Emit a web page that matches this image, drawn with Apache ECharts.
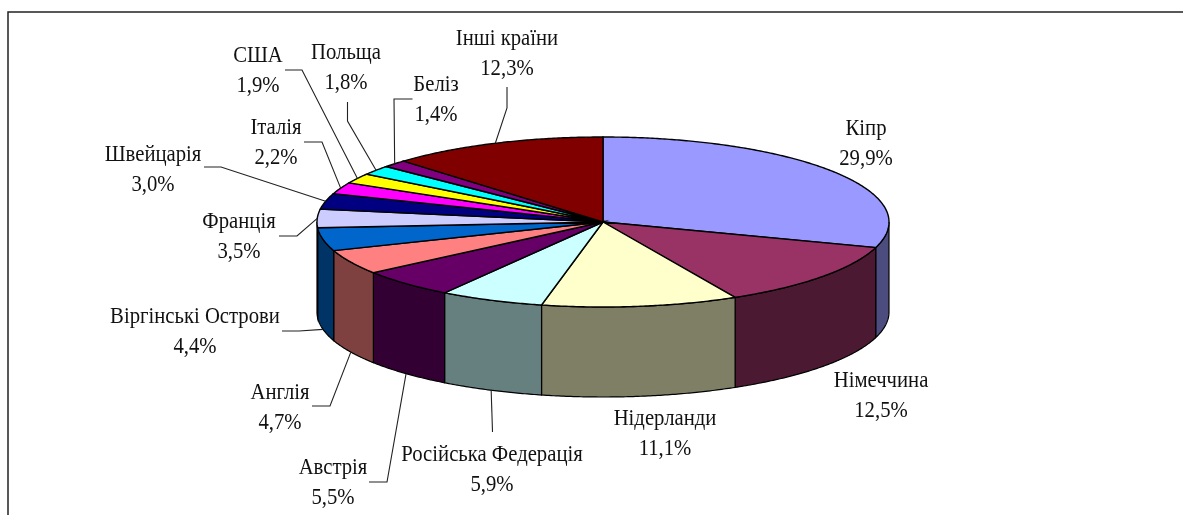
<!DOCTYPE html>
<html>
<head>
<meta charset="utf-8">
<style>
  html, body { margin: 0; padding: 0; background: #fff; }
  #chart { width: 1183px; height: 515px; }
</style>
<script src="https://cdn.jsdelivr.net/npm/echarts@6/dist/echarts.min.js"></script>
</head>
<body>
<div id="chart"></div>
<script>
const countries = ["Кіпр", "Німеччина", "Нідерланди", "Російська Федерація", "Австрія", "Англія", "Віргінські Острови", "Франція", "Швейцарія", "Італія", "США", "Польща", "Беліз", "Інші країни"];
const shares = [29.9, 12.5, 11.1, 5.9, 5.5, 4.7, 4.4, 3.5, 3.0, 2.2, 1.9, 1.8, 1.4, 12.3];
const topColors = ["#9999FF", "#993366", "#FFFFCC", "#CCFFFF", "#660066", "#FF8080", "#0066CC", "#CCCCFF", "#000080", "#FF00FF", "#FFFF00", "#00FFFF", "#800080", "#800000"];
const wallColors = ["#4C4C7F", "#4C1933", "#7F7F66", "#667F7F", "#330033", "#7F4040", "#003366", "#66667F", "#000040", "#7F007F", "#7F7F00", "#007F7F", "#400040", "#400000"];

// label centre, then the fixed part of its leader line (the last point comes from the slice)
const labelPlaces = [
  [866, 144, null], [881, 396, null], [665, 434, null],
  [492, 470, [[492.5, 432]]],
  [333, 483, [[369, 482], [387, 482]]],
  [280, 408, [[312, 406], [330, 406]]],
  [195, 332, [[282, 331], [299, 331]]],
  [239, 237, [[279, 236], [297, 236]]],
  [153, 170, [[204, 167], [221, 167]]],
  [276, 143, [[304, 142], [322, 142]]],
  [258, 71, [[285, 70], [302, 70]]],
  [346, 68, [[347.5, 102], [347.5, 121]]],
  [436, 100, [[412.5, 99], [394, 99]]],
  [507, 54, [[507, 87], [507, 108]]]
];

const cx = 603, cy = 222, rx = 286, ry = 85, depth = 90;
const total = shares.reduce((a, b) => a + b, 0);

// [start, end] of every slice in degrees, clockwise from 12 o'clock
let running = 0;
const slices = shares.map((v) => {
  const start = running / total * 360;
  running += v;
  return [start, running / total * 360];
});

function rimPoint(deg, drop) {
  const a = deg * Math.PI / 180;
  return [cx + rx * Math.sin(a), cy - ry * Math.cos(a) + (drop || 0)];
}

function arc(from, to, drop) {
  const pts = [];
  const n = Math.max(2, Math.ceil(Math.abs(to - from) / 0.5));
  for (let i = 0; i <= n; i++) pts.push(rimPoint(from + (to - from) * i / n, drop));
  return pts;
}

function renderWall(params, api) {
  const from = Math.max(api.value(0), 90);
  const to = Math.min(api.value(1), 270);
  if (to <= from) return null;
  return {
    type: "polygon",
    shape: { points: arc(from, to, 0).concat(arc(to, from, depth)) },
    style: { fill: wallColors[params.dataIndex], stroke: "#000", lineWidth: 1.2 }
  };
}

function renderTop(params, api) {
  return {
    type: "polygon",
    shape: { points: [[cx, cy]].concat(arc(api.value(0), api.value(1), 0)) },
    style: { fill: topColors[params.dataIndex], stroke: "#000", lineWidth: 1.4 }
  };
}

function renderLabel(params, api) {
  const i = params.dataIndex;
  const place = labelPlaces[i];
  const mid = (api.value(0) + api.value(1)) / 2;
  const children = [{
    type: "text",
    x: place[0],
    y: place[1],
    scaleX: 0.9,
    style: {
      text: countries[i] + "\n" + shares[i].toFixed(1).replace(".", ",") + "%",
      x: 0,
      y: 0,
      align: "center",
      verticalAlign: "middle",
      fontFamily: "Liberation Serif",
      fontSize: 23,
      lineHeight: 30,
      fill: "#111"
    }
  }];
  if (place[2]) {
    const end = rimPoint(mid, mid > 90 && mid < 270 ? depth : 0);
    children.push({
      type: "polyline",
      shape: { points: place[2].concat([end]) },
      style: { fill: null, stroke: "#222", lineWidth: 1.1 }
    });
  }
  return { type: "group", children: children };
}

const chart = echarts.init(document.getElementById("chart"), null, { renderer: "canvas" });
chart.setOption({
  animation: false,
  backgroundColor: "#fff",
  graphic: [
    {
      type: "polyline",
      shape: { points: [[8, 515], [8, 12], [1183, 12]] },
      style: { fill: null, stroke: "#222", lineWidth: 1.5 },
      silent: true
    }
  ],
  series: [
    { type: "custom", coordinateSystem: "none", silent: true, z: 1, data: slices, renderItem: renderWall },
    { type: "custom", coordinateSystem: "none", silent: true, z: 2, data: slices, renderItem: renderTop },
    { type: "custom", coordinateSystem: "none", silent: true, z: 3, data: slices, renderItem: renderLabel }
  ]
});
</script>
</body>
</html>
